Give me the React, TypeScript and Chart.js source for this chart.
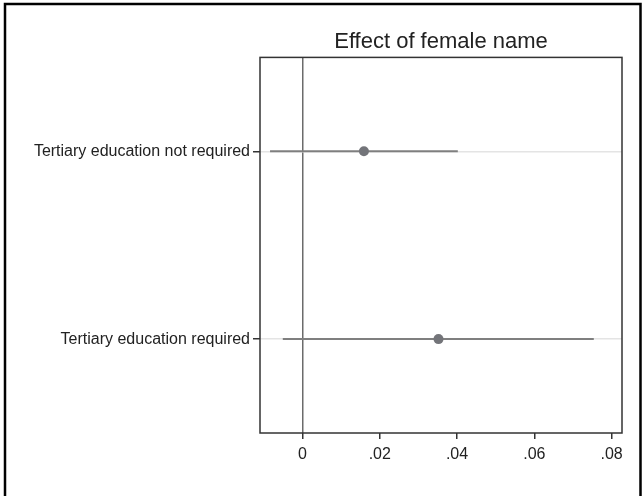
import React, { useEffect, useRef } from "react";
import { Chart, registerables } from "chart.js";

Chart.register(...registerables);

const categories = ["Tertiary education not required", "Tertiary education required"];
const estimates = [0.0159, 0.0352];
const ciLow = [-0.0084, -0.0051];
const ciHigh = [0.0402, 0.0754];
const xTicks = [0, 0.02, 0.04, 0.06, 0.08];
const xTickLabels = ["0", ".02", ".04", ".06", ".08"];
const chartTitle = "Effect of female name";

const FONT = "'Liberation Sans', Arial, sans-serif";

const framePlugin = {
  id: "framePlugin",
  beforeDraw(chart: any) {
    const c = chart.ctx;
    c.save();
    c.fillStyle = "#ffffff";
    c.fillRect(0, 0, chart.width, chart.height);
    c.strokeStyle = "#000000";
    c.lineWidth = 2.5;
    c.beginPath();
    c.moveTo(5, chart.height + 5);
    c.lineTo(5, 4);
    c.lineTo(640.5, 4);
    c.lineTo(640.5, chart.height + 5);
    c.stroke();
    c.restore();
  },
  afterDraw(chart: any) {
    const a = chart.chartArea;
    const c = chart.ctx;
    c.save();
    c.strokeStyle = "#333333";
    c.lineWidth = 1.5;
    c.strokeRect(a.left, a.top, a.right - a.left, a.bottom - a.top);
    c.restore();
  },
};

export default function App() {
  const ref = useRef<HTMLCanvasElement | null>(null);

  useEffect(() => {
    if (!ref.current) return;
    const ciSets = categories.map((c, i) => ({
      type: "line" as const,
      label: c + " CI",
      data: [
        { x: ciLow[i], y: i },
        { x: ciHigh[i], y: i },
      ],
      borderColor: "#7f7f7f",
      borderWidth: 2,
      pointRadius: 0,
      showLine: true,
      order: 2,
    }));
    const chart = new Chart(ref.current, {
      type: "scatter",
      data: {
        datasets: [
          ...ciSets,
          {
            type: "scatter" as const,
            label: "Estimate",
            data: estimates.map((v, i) => ({ x: v, y: i })),
            backgroundColor: "#737479",
            borderWidth: 0,
            pointRadius: 5,
            order: 1,
          },
        ],
      } as any,
      options: {
        responsive: false,
        animation: false,
        layout: { padding: { left: 0, right: 21, top: 0, bottom: 0 } },
        plugins: {
          legend: { display: false },
          tooltip: { enabled: false },
          title: {
            display: true,
            text: chartTitle,
            fullSize: false,
            color: "#222222",
            font: { family: FONT, size: 22, weight: "normal" as any },
            padding: { top: 29, bottom: 2 },
          },
        },
        scales: {
          x: {
            type: "linear",
            min: -0.011,
            max: 0.0827,
            afterBuildTicks: (s: any) => {
              s.ticks = xTicks.map((v) => ({ value: v }));
            },
            afterFit: (s: any) => {
              s.height = 63;
            },
            ticks: {
              callback: (v: any) => {
                const i = xTicks.findIndex((t) => Math.abs(t - Number(v)) < 1e-9);
                return i >= 0 ? xTickLabels[i] : "";
              },
              color: "#222222",
              font: { family: FONT, size: 16 },
              padding: 6,
              maxRotation: 0,
            },
            grid: {
              color: (ctx: any) =>
                ctx.tick && Math.abs(ctx.tick.value) < 1e-12 ? "#6b6b6b" : "rgba(0,0,0,0)",
              lineWidth: 1.5,
              tickColor: "#333333",
              tickLength: 6,
              drawTicks: true,
            },
            border: { display: false },
          },
          y: {
            type: "linear",
            min: -0.5,
            max: 1.5,
            reverse: true,
            afterBuildTicks: (s: any) => {
              s.ticks = categories.map((_, i) => ({ value: i }));
            },
            afterFit: (s: any) => {
              s.width = 260;
            },
            ticks: {
              callback: (v: any) => categories[Math.round(Number(v))] ?? "",
              color: "#222222",
              font: { family: FONT, size: 16 },
              padding: 3,
            },
            grid: {
              color: "#e4e4e4",
              lineWidth: 1.5,
              tickColor: "#333333",
              tickLength: 7,
            },
            border: { display: false },
          },
        },
      } as any,
      plugins: [framePlugin],
    });
    return () => chart.destroy();
  }, []);

  return (
    <div style={{ position: "absolute", left: 0, top: 0, width: 643, height: 496, background: "#fff" }}>
      <canvas ref={ref} width={643} height={496} style={{ display: "block" }} />
    </div>
  );
}
